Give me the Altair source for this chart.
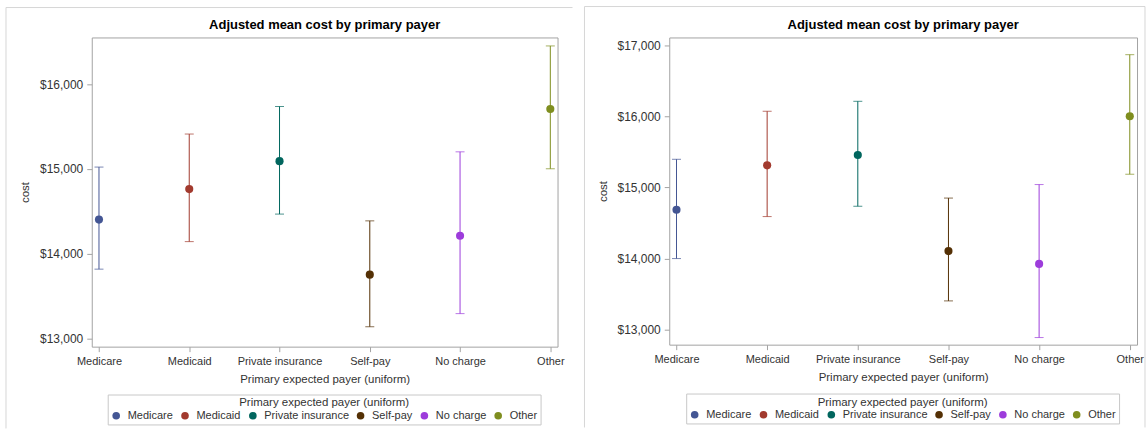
import altair as alt
import pandas as pd

# Categories and colours
payers = ["Medicare", "Medicaid", "Private insurance", "Self-pay", "No charge", "Other"]
payer_colors = ["#445694", "#A23A2E", "#01665E", "#543005", "#9D3CDB", "#7F8E1F"]

# First model: adjusted mean cost with confidence limits
mean_a = [14400, 14760, 15090, 13750, 14210, 15705]
lower_a = [13815, 14140, 14465, 13135, 13290, 15000]
upper_a = [15020, 15410, 15735, 14385, 15200, 16450]
ticks_a = [13000, 14000, 15000, 16000]
domain_a = [12900, 16550]

# Second model
mean_b = [14685, 15310, 15455, 14105, 13925, 16000]
lower_b = [14000, 14590, 14735, 13405, 12890, 15185]
upper_b = [15395, 16070, 16210, 14850, 15040, 16865]
ticks_b = [13000, 14000, 15000, 16000, 17000]
domain_b = [12790, 17107]

TITLE = "Adjusted mean cost by primary payer"
X_TITLE = "Primary expected payer (uniform)"
FONT = "Liberation Sans"
TEXT = "#333333"
PANEL_LINE = "#d6d6d6"

one_row = pd.DataFrame({"k": [0]})


def panel(mean, lower, upper, y_domain, y_ticks, width, height,
          legend_x, legend_y, left, top, right, bottom):
    df = pd.DataFrame({"payer": payers, "mean": mean, "lower": lower, "upper": upper})
    x = alt.X(
        "payer:N",
        sort=payers,
        scale=alt.Scale(type="point", padding=0.08),
        axis=alt.Axis(title=X_TITLE, labelAngle=0),
    )
    yscale = alt.Scale(domain=y_domain, nice=False, zero=False)
    yaxis = alt.Axis(title="cost", values=y_ticks, format="$,.0f")
    legend = alt.Legend(
        title=X_TITLE,
        orient="none",
        legendX=legend_x,
        legendY=legend_y,
        direction="horizontal",
        columns=6,
        titleAnchor="middle",
        titleFontSize=11.5,
        titleFontWeight="normal",
        titleColor=TEXT,
        titlePadding=1,
        labelFontSize=11,
        labelColor=TEXT,
        symbolType="circle",
        symbolSize=58,
        symbolOpacity=1,
        symbolStrokeWidth=0,
        labelOffset=6,
        columnPadding=6,
        padding=3,
        strokeColor="#c8c8c8",
    )
    color = alt.Color("payer:N", scale=alt.Scale(domain=payers, range=payer_colors),
                      legend=legend)
    base = alt.Chart(df)

    whisker = base.mark_rule(strokeWidth=1).encode(
        x=x,
        y=alt.Y("lower:Q", scale=yscale, axis=yaxis),
        y2="upper:Q",
        color=color,
    )
    cap_lo = base.mark_tick(orient="horizontal", size=9, thickness=1).encode(
        x=x, y=alt.Y("lower:Q", scale=yscale, axis=yaxis), color=color,
    )
    cap_hi = base.mark_tick(orient="horizontal", size=9, thickness=1).encode(
        x=x, y=alt.Y("upper:Q", scale=yscale, axis=yaxis), color=color,
    )
    dots = base.mark_circle(size=66, opacity=1).encode(
        x=x, y=alt.Y("mean:Q", scale=yscale, axis=yaxis), color=color,
    )

    title = alt.Chart(one_row).mark_text(
        text=TITLE, font=FONT, fontSize=13, fontWeight="bold",
        align="center", baseline="alphabetic", color="black",
    ).encode(x=alt.value(width / 2), y=alt.value(-8))

    # light outline around the panel
    frame_parts = [
        alt.Chart(one_row).mark_rule(color=PANEL_LINE, strokeWidth=1).encode(
            x=alt.value(left), y=alt.value(top), y2=alt.value(bottom)),
        alt.Chart(one_row).mark_rule(color=PANEL_LINE, strokeWidth=1).encode(
            x=alt.value(left), x2=alt.value(right), y=alt.value(top)),
    ]
    if right < 480:
        frame_parts.append(
            alt.Chart(one_row).mark_rule(color=PANEL_LINE, strokeWidth=1).encode(
                x=alt.value(right), y=alt.value(top), y2=alt.value(bottom)))

    return alt.layer(*frame_parts, whisker, cap_lo, cap_hi, dots, title).properties(
        width=width, height=height
    )


left_panel = panel(mean_a, lower_a, upper_a, domain_a, ticks_a, 467, 310,
                   16, 358, -86, -30, 482, 392)
right_panel = panel(mean_b, lower_b, upper_b, domain_b, ticks_b, 469, 308,
                    17, 357, -85, -31, 477, 391)

chart = (
    alt.hconcat(left_panel, right_panel, spacing=10)
    .resolve_scale(color="independent", y="independent", x="independent")
    .resolve_legend(color="independent")
    .properties(padding={"left": 5, "top": 5, "right": 0, "bottom": 0}, background="white")
    .configure(font=FONT)
    .configure_view(stroke="#a3a3a3", strokeWidth=1)
    .configure_axis(
        labelFont=FONT,
        titleFont=FONT,
        labelFontSize=11,
        labelColor=TEXT,
        titleFontSize=11.5,
        titleFontWeight="normal",
        titleColor=TEXT,
        tickColor="#a3a3a3",
        tickSize=5,
        domain=False,
        grid=False,
        labelPadding=4,
    )
    .configure_axisY(labelFontSize=12, titlePadding=9)
    .configure_axisX(titlePadding=7)
)

chart.save("out.html", embed_options={"renderer": "svg", "actions": False})
